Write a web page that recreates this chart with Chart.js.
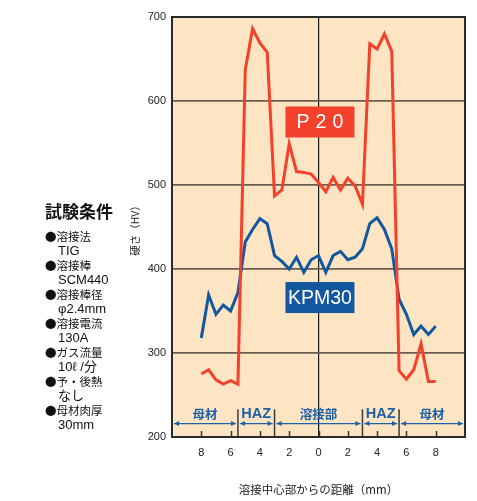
<!DOCTYPE html>
<html>
<head>
<meta charset="utf-8">
<script src="https://cdn.jsdelivr.net/npm/chart.js@4.4.1/dist/chart.umd.min.js"></script>
<style>
  html, body { margin: 0; padding: 0; background: #fff; }
  #wrap { width: 477px; height: 501px; position: relative; }
</style>
</head>
<body>
<div id="wrap"><canvas id="c"></canvas></div>
<script>
// distance from weld centre (mm), left side negative
const distMm = [-8, -7.5, -7, -6.5, -6, -5.5, -5, -4.5, -4, -3.5, -3, -2.5, -2, -1.5, -1, -0.5,
  0, 0.5, 1, 1.5, 2, 2.5, 3, 3.5, 4, 4.5, 5, 5.5, 6, 6.5, 7, 7.5, 8];

const p20 = [275, 280, 268, 263, 267, 263, 637, 686, 669, 658, 487, 494, 549, 516, 515, 513,
  503, 492, 509, 494, 508, 499, 477, 668, 662, 680, 659, 279, 269, 280, 311, 266, 266];

const kpm30 = [318, 369, 346, 357, 350, 372, 432, 447, 460, 454, 416, 409, 400, 414, 396, 411,
  416, 396, 416, 421, 411, 414, 424, 454, 461, 447, 424, 364, 346, 322, 332, 322, 332];

const yTicks = [200, 300, 400, 500, 600, 700];
const xTicks = [-8, -6, -4, -2, 0, 2, 4, 6, 8];

// zones along the x axis
const zoneEdges = [-10, -5.5, -3, 3, 5.5, 10];
const zoneNames = ['母材', 'HAZ', '溶接部', 'HAZ', '母材'];

const conditions = [
  '●溶接法', 'TIG', '●溶接棒', 'SCM440', '●溶接棒径', 'φ2.4mm', '●溶接電流', '130A',
  '●ガス流量', '10ℓ /分', '●予・後熱', 'なし', '●母材肉厚', '30mm'
];

const RED = '#f4412b';
const BLUE = '#12579f';
const ZONE_BLUE = '#1f5fa6';
const FONT = '"Liberation Sans", Arial, "Noto Sans CJK JP", sans-serif';
const JFONT = '"Noto Sans CJK JP", sans-serif';

const decor = {
  id: 'decor',
  beforeDraw(chart) {
    const { ctx, chartArea: a } = chart;
    ctx.save();
    ctx.fillStyle = '#fde5c3';
    ctx.fillRect(a.left, a.top, a.right - a.left, a.bottom - a.top);
    ctx.restore();
  },
  beforeDatasetsDraw(chart) {
    const { ctx, chartArea: a, scales: { x, y } } = chart;
    ctx.save();
    // small ticks on the bottom edge, inside the plot
    ctx.strokeStyle = '#333';
    ctx.lineWidth = 1.5;
    xTicks.forEach(v => {
      const px = Math.round(x.getPixelForValue(v)) + 0.5;
      ctx.beginPath();
      ctx.moveTo(px, a.bottom);
      ctx.lineTo(px, a.bottom - 6);
      ctx.stroke();
    });
    // zone separators
    const top = y.getPixelForValue(233);
    ctx.strokeStyle = '#3a3a3a';
    ctx.lineWidth = 1.5;
    zoneEdges.slice(1, -1).forEach(v => {
      const px = x.getPixelForValue(v);
      ctx.beginPath();
      ctx.moveTo(px, top);
      ctx.lineTo(px, a.bottom);
      ctx.stroke();
    });
    // arrows and labels
    const ay = y.getPixelForValue(216);
    ctx.strokeStyle = ZONE_BLUE;
    ctx.fillStyle = ZONE_BLUE;
    ctx.lineWidth = 1.2;
    for (let i = 0; i < zoneNames.length; i++) {
      const x0 = x.getPixelForValue(zoneEdges[i]) + 2;
      const x1 = x.getPixelForValue(zoneEdges[i + 1]) - 2;
      ctx.beginPath();
      ctx.moveTo(x0, ay);
      ctx.lineTo(x1, ay);
      ctx.stroke();
      [[x0, 1], [x1, -1]].forEach(([px, d]) => {
        ctx.beginPath();
        ctx.moveTo(px, ay);
        ctx.lineTo(px + 5 * d, ay - 2.5);
        ctx.lineTo(px + 5 * d, ay + 2.5);
        ctx.closePath();
        ctx.fill();
      });
      ctx.font = zoneNames[i] === 'HAZ' ? 'bold 14.5px ' + FONT : 'bold 12.5px ' + JFONT;
      ctx.textAlign = 'center';
      ctx.textBaseline = 'middle';
      ctx.fillText(zoneNames[i], (x0 + x1) / 2, y.getPixelForValue(227));
    }
    ctx.restore();
  },
  afterDatasetsDraw(chart) {
    const { ctx, chartArea: a, scales: { x, y } } = chart;
    ctx.save();
    ctx.strokeStyle = '#2a2a2a';
    ctx.lineWidth = 2;
    ctx.strokeRect(a.left, a.top, a.right - a.left, a.bottom - a.top);

    // series name boxes
    const box = (text, cy, fill, spacing) => {
      const cx = x.getPixelForValue(0.1);
      ctx.fillStyle = fill;
      ctx.fillRect(cx - 34.5, cy - 15.5, 69, 31);
      ctx.fillStyle = '#fff';
      ctx.font = '19.5px ' + FONT;
      ctx.textAlign = 'center';
      ctx.textBaseline = 'middle';
      ctx.letterSpacing = spacing + 'px';
      ctx.fillText(text, cx + spacing / 2, cy + 1);
      ctx.letterSpacing = '0px';
    };
    box('P20', y.getPixelForValue(575), RED, 6);
    box('KPM30', y.getPixelForValue(366), BLUE, 0);

    // y axis title
    ctx.fillStyle = '#222';
    ctx.font = '10.5px ' + JFONT;
    ctx.translate(135, 228);
    ctx.rotate(-Math.PI / 2);
    ctx.textAlign = 'center';
    ctx.textBaseline = 'middle';
    ctx.fillText('硬さ（HV）', 0, 0);
    ctx.restore();

    // test conditions panel
    ctx.save();
    ctx.fillStyle = '#111';
    ctx.textAlign = 'left';
    ctx.textBaseline = 'middle';
    ctx.font = 'bold 17px ' + JFONT;
    ctx.fillText('試験条件', 45, 212);
    conditions.forEach((t, i) => {
      if (i % 2 === 0) {
        ctx.font = '11.5px ' + JFONT;
        ctx.fillText(t, 45, 236.5 + i * 14.5);
      } else {
        ctx.font = '13px ' + FONT;
        ctx.fillText(t, 58, 236.5 + i * 14.5);
      }
    });
    ctx.restore();
  }
};

new Chart(document.getElementById('c'), {
  type: 'line',
  data: {
    datasets: [
      {
        label: 'P20',
        data: distMm.map((d, i) => ({ x: d, y: p20[i] })),
        borderColor: RED,
        borderWidth: 3,
        pointRadius: 0,
        tension: 0
      },
      {
        label: 'KPM30',
        data: distMm.map((d, i) => ({ x: d, y: kpm30[i] })),
        borderColor: BLUE,
        borderWidth: 3,
        pointRadius: 0,
        tension: 0
      }
    ]
  },
  options: {
    responsive: true,
    maintainAspectRatio: false,
    animation: false,
    layout: { padding: { left: 0, right: 12, top: 17, bottom: 0 } },
    plugins: {
      legend: { display: false },
      tooltip: { enabled: false }
    },
    scales: {
      x: {
        type: 'linear',
        min: -10,
        max: 10,
        afterBuildTicks: scale => {
          scale.ticks = xTicks.map(v => ({ value: v }));
        },
        afterFit: scale => { scale.height = 64; },
        border: { display: false },
        grid: {
          drawTicks: false,
          color: c => (c.tick && c.tick.value === 0 ? '#1a1a1a' : 'transparent'),
          lineWidth: 1.2
        },
        ticks: {
          padding: 9,
          color: '#222',
          font: { family: FONT, size: 11 },
          callback: v => String(Math.abs(v))
        },
        title: {
          display: true,
          text: '溶接中心部からの距離（mm）',
          color: '#222',
          font: { family: JFONT, size: 11.5 },
          padding: { top: 16 }
        }
      },
      y: {
        min: 200,
        max: 700,
        afterBuildTicks: scale => {
          scale.ticks = yTicks.map(v => ({ value: v }));
        },
        afterFit: scale => { scale.width = 172; },
        border: { display: false },
        grid: {
          drawTicks: false,
          color: c => (c.tick && (c.tick.value === 200 || c.tick.value === 700) ? 'transparent' : '#6a5e50'),
          lineWidth: 1.8
        },
        ticks: {
          padding: 6,
          color: '#222',
          font: { family: FONT, size: 11 }
        }
      }
    }
  },
  plugins: [decor]
});
</script>
</body>
</html>
